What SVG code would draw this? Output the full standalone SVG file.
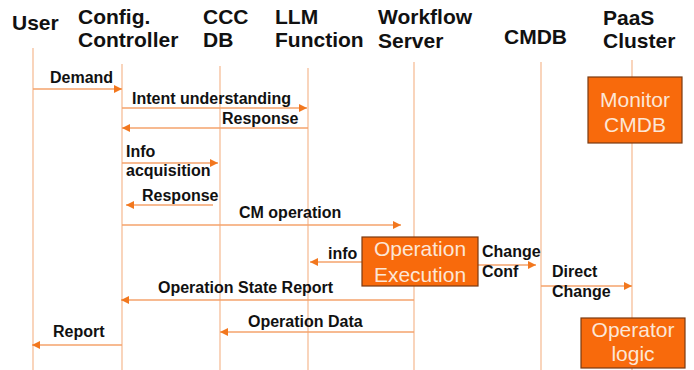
<svg xmlns="http://www.w3.org/2000/svg" width="694" height="370" viewBox="0 0 694 370">
<style>
.hd{font-family:"Liberation Sans",Arial,sans-serif;font-weight:bold;font-size:21px;fill:#111}
.lb{font-family:"Liberation Sans",Arial,sans-serif;font-weight:bold;font-size:16px;fill:#111}
.bx{fill:#F86A0C;stroke:#7A3A12;stroke-width:1.2}
.bt{font-family:"Liberation Sans",Arial,sans-serif;font-size:21px;fill:#FCE6D6;text-anchor:middle}
.life{stroke:#F6BE98;stroke-width:1.3;fill:none}
.msg{stroke:#F5A36C;stroke-width:1.3;fill:none}
</style>
<defs>
<marker id="ah" viewBox="0 0 10 10" refX="10" refY="5" markerWidth="9" markerHeight="8" markerUnits="userSpaceOnUse" orient="auto">
<path d="M0,0 L10,5 L0,10 z" fill="#F2771E"/>
</marker>
</defs>
<rect width="694" height="370" fill="#fff"/>
<g id="lifelines">
<line class="life" x1="33" y1="48" x2="33" y2="370"/>
<line class="life" x1="122" y1="64" x2="122" y2="370"/>
<line class="life" x1="220" y1="66" x2="220" y2="370"/>
<line class="life" x1="308" y1="68" x2="308" y2="370"/>
<line class="life" x1="414" y1="62" x2="414" y2="370"/>
<line class="life" x1="541" y1="62" x2="541" y2="370"/>
<line class="life" x1="632" y1="60" x2="632" y2="370"/>
</g>
<g id="user"><text class="hd" x="12" y="30">User</text></g>
<g id="config"><text class="hd" x="78" y="24">Config.</text><text class="hd" x="78" y="47">Controller</text></g>
<g id="cccdb"><text class="hd" x="203" y="24">CCC</text><text class="hd" x="203" y="47">DB</text></g>
<g id="llm"><text class="hd" x="275" y="24">LLM</text><text class="hd" x="275" y="47">Function</text></g>
<g id="workflow"><text class="hd" x="378" y="24">Workflow</text><text class="hd" x="378" y="48">Server</text></g>
<g id="cmdb"><text class="hd" x="504" y="44">CMDB</text></g>
<g id="paas"><text class="hd" x="603" y="25">PaaS</text><text class="hd" x="603" y="48">Cluster</text></g>
<g id="connectors">
<line class="msg" x1="33" y1="89" x2="122" y2="89" marker-end="url(#ah)"/>
<text class="lb" x="50" y="83">Demand</text>
<line class="msg" x1="122" y1="108" x2="307" y2="108" marker-end="url(#ah)"/>
<text class="lb" x="132" y="104">Intent understanding</text>
<line class="msg" x1="308" y1="128" x2="122" y2="128" marker-end="url(#ah)"/>
<text class="lb" x="222" y="124">Response</text>
<line class="msg" x1="122" y1="163" x2="218" y2="163" marker-end="url(#ah)"/>
<text class="lb" x="126" y="157">Info</text>
<text class="lb" x="126" y="176">acquisition</text>
<line class="msg" x1="213" y1="205" x2="126" y2="205" marker-end="url(#ah)"/>
<text class="lb" x="142" y="201">Response</text>
<line class="msg" x1="122" y1="225" x2="401" y2="225" marker-end="url(#ah)"/>
<text class="lb" x="239" y="218">CM operation</text>
<line class="msg" x1="362" y1="262" x2="310" y2="262" marker-end="url(#ah)"/>
<text class="lb" x="328" y="259">info</text>
<line class="msg" x1="478" y1="265" x2="536" y2="265" marker-end="url(#ah)"/>
<text class="lb" x="482" y="257">Change</text>
<text class="lb" x="482" y="277">Conf</text>
<line class="msg" x1="541" y1="286" x2="632" y2="286" marker-end="url(#ah)"/>
<text class="lb" x="552" y="277">Direct</text>
<text class="lb" x="552" y="297">Change</text>
<line class="msg" x1="414" y1="300" x2="121" y2="300" marker-end="url(#ah)"/>
<text class="lb" x="158" y="293">Operation State Report</text>
<line class="msg" x1="414" y1="332" x2="220" y2="332" marker-end="url(#ah)"/>
<text class="lb" x="248" y="327">Operation Data</text>
<line class="msg" x1="122" y1="345" x2="32" y2="345" marker-end="url(#ah)"/>
<text class="lb" x="53" y="337">Report</text>
</g>
<g id="monitor"><rect class="bx" x="588" y="77" width="94" height="66"/><text class="bt" x="635" y="107">Monitor</text><text class="bt" x="635" y="132">CMDB</text></g>
<g id="operation"><rect class="bx" x="362" y="237" width="116" height="49"/><text class="bt" x="420" y="256">Operation</text><text class="bt" x="420" y="282">Execution</text></g>
<g id="operator"><rect class="bx" x="581" y="318" width="104" height="50"/><text class="bt" x="633" y="337">Operator</text><text class="bt" x="633" y="361">logic</text></g>
</svg>
